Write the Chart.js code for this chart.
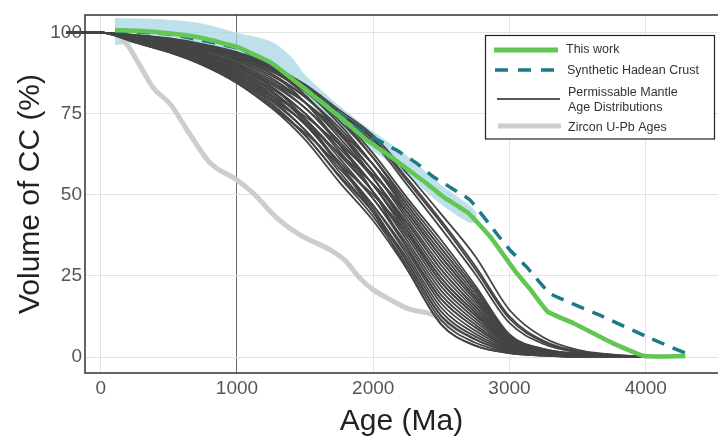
<!DOCTYPE html>
<html><head><meta charset="utf-8">
<script src="https://cdn.jsdelivr.net/npm/chart.js@4.4.1/dist/chart.umd.min.js"></script>
<style>html,body{margin:0;padding:0;background:#fff;}#wrap{width:718px;height:440px;}</style>
</head><body><div id="wrap"><canvas id="c" width="718" height="440"></canvas></div>
<script>
// ---- data ----
const xTicks = [0, 1000, 2000, 3000, 4000];
const yTicks = [0, 25, 50, 75, 100];

const thisWorkAges = [105, 300, 500, 750, 1000, 1250, 1500, 1750, 1950, 2120, 2390, 2510, 2700, 2860, 3050, 3150, 3280, 3470, 3760, 3990, 4290];
const thisWorkVol  = [100.8, 100.5, 99.8, 98.3, 95.6, 90.8, 82.6, 74.2, 67, 62, 53.6, 49.5, 44.3, 37, 26, 21, 14, 10.4, 4.2, 0.3, 0.3];

const hadeanAges = [105, 500, 1000, 1250, 1500, 1750, 1900, 2170, 2320, 2440, 2710, 2905, 3003, 3125, 3296, 3663, 4004, 4290];
const hadeanVol  = [100.5, 99.6, 95.3, 90.5, 83, 75, 70, 63.8, 59.7, 55.6, 48.4, 38.1, 33, 27.8, 19.6, 12.9, 6.3, 1.2];

const bandAges  = [105, 500, 750, 1000, 1250, 1400, 1500, 1750, 2000, 2250, 2500, 2700, 2760];
const bandUpper = [104.5, 104, 102.8, 100, 97.3, 92.5, 87, 77.5, 69.5, 62, 53, 47, 44.5];
const bandLower = [96.2, 97.5, 96.5, 93.5, 88.5, 84, 79.5, 71.5, 63.5, 56, 47, 41.5, 41.5];

const zirconAges = [110, 200, 300, 385, 510, 650, 800, 1000, 1120, 1290, 1465, 1685, 1800, 1900, 2000, 2130, 2250, 2440, 2600, 2800, 3000, 3300, 3600];
const zirconVol  = [100, 96, 89, 83, 78, 69, 60, 54.6, 50.5, 43, 37.6, 33, 29.5, 24.4, 20.7, 17.6, 15, 13, 9, 5, 3, 1.5, 0.3];

const mantleAges = [-250, 0, 250, 500, 750, 1000, 1250, 1500, 1750, 2000, 2250, 2500, 2750, 3000, 3250, 3500, 4000];
const mantleRuns = [
  [100,100,97,94,90,84.5,77,67,54,42,27,10,3.5,1.2,0.4,0,0],
  [100,100,97.2,94.4,90.7,85.5,78.3,68.5,55.6,43.3,28.1,11.3,4.4,1.5,0.5,0.1,0],
  [100,100,97.1,94.2,90.3,85,77.7,68.3,56.1,44.6,30.3,13.9,6.3,2.1,0.7,0.2,0],
  [100,100,97.5,94.9,91.3,86.4,79.6,70,57.2,44.6,29.2,12.6,5.4,1.8,0.6,0.1,0],
  [100,100,97.3,94.6,91,85.9,79,70,58.2,46.7,32.5,16.5,8.1,2.7,0.9,0.3,0],
  [100,100,97.7,95.3,92,87.4,80.9,71.7,59.3,46.7,31.4,15.2,7.2,2.4,0.8,0.2,0],
  [100,100,97.6,95.1,91.6,86.9,80.3,71.7,60.3,48.8,34.7,19.1,10,3.2,1.1,0.4,0],
  [100,100,97.9,95.7,92.6,88.3,82.2,73.4,61.4,48.8,33.6,17.8,9.1,2.9,1,0.3,0],
  [100,100,97.8,95.5,92.3,87.8,81.6,73.4,62.4,50.9,36.9,21.7,11.8,3.8,1.4,0.5,0],
  [100,100,98.2,96.2,93.3,89.3,83.5,75.1,63.5,50.9,35.8,20.4,10.9,3.5,1.2,0.4,0],
  [100,100,98,95.9,92.9,88.8,82.9,75.1,64.5,53,39.1,24.3,13.7,4.4,1.6,0.6,0],
  [100,100,98.4,96.6,93.9,90.2,84.8,76.8,65.6,53,38,23,12.8,4.1,1.5,0.5,0],
  [100,100,98.3,96.4,93.6,89.7,84.2,76.8,66.6,55.1,41.3,26.9,15.5,5,1.8,0.7,0],
  [100,100,98.6,97,94.6,91.2,86.1,78.5,67.7,55.1,40.2,25.6,14.6,4.7,1.7,0.6,0],
  [100,100,98.5,96.8,94.2,90.7,85.5,78.5,68.7,57.2,43.5,29.5,17.4,5.6,2,0.8,0],
  [100,100,98.8,97.4,95.2,92.1,87.4,80.2,69.8,57.2,42.4,28.2,16.5,5.3,1.9,0.7,0],
  [100,100,98.7,97.2,94.9,91.6,86.8,80.2,70.8,59.3,45.7,32.1,19.2,6.1,2.2,0.9,0],
  [100,100,99.1,97.9,95.9,93.1,88.7,81.9,71.9,59.3,44.6,30.8,18.3,5.8,2.1,0.8,0],
  [100,100,99,97.7,95.5,92.6,88.1,81.9,72.9,61.4,47.9,34.7,21.1,6.7,2.4,1,0],
  [100,100,99.3,98.3,96.5,94,90,83.6,74,61.4,46.8,33.4,20.2,6.4,2.3,0.9,0],
  [100,100,99.2,98.1,96.2,93.5,89.4,83.4,74.5,62.7,49,36,22,7,2.5,1,0],
  [100,100,97,94,90,84.5,77,69.1,59.3,49.9,38,23,12.8,4.1,1.5,0.5,0],
  [100,100,98.2,96.2,93.3,89.3,83.5,73.4,59.3,44.6,27,10,3.5,1.2,0.4,0,0],
  [100,100,97.7,95.3,92,87.4,80.9,74.2,65.6,56.2,44.6,30.8,18.3,5.8,2.1,0.8,0],
  [100,100,98.8,97.4,95.2,92.1,87.4,78.5,65.6,50.9,33.6,17.8,9.1,2.9,1,0.3,0],
  [100,100,98.4,96.6,93.9,90.2,84.8,78.5,69.8,59.3,46.8,33.4,20.2,6.4,2.3,0.9,0],
  [100,100,97.5,94.9,91.3,86.4,79.6,72.3,62.9,53.3,41.3,26.9,15.5,5,1.8,0.7,0],
  [100,100,99.1,97.9,95.9,93.1,88.7,80.8,69.2,55.4,39.1,24.3,13.7,4.4,1.6,0.6,0],
  [100,100,97.9,95.7,92.6,88.3,82.2,72.5,59.3,45.7,29.2,12.6,5.4,1.8,0.6,0.1,0],
  [100,100,99.1,98,96,93.5,89.5,83.5,75.5,67.5,55,42,28,12.5,5,1.8,0],
  [100,100,99,97.8,95.8,93.2,89.2,83,75,67,54.2,41.2,27,11.8,4.6,1.6,0],
  [100,100,99.2,98.1,96.2,93.8,89.8,84,76.2,68.3,56.5,44,31,14.5,6,2.2,0],
  [100,100,98.9,97.6,95.5,92.8,88.7,82.5,74.2,66.2,53,39.5,25.5,10.5,4,1.4,0]
];

const legendLabels = ['This work', 'Synthetic Hadean Crust', ['Permissable Mantle', 'Age Distributions'], 'Zircon U-Pb Ages'];
const axisTitles = { x: 'Age (Ma)', y: 'Volume of CC (%)' };

// ---- build chart ----
const FONT = "'Liberation Sans', Arial, Helvetica, sans-serif";
const pts = (xs, ys) => xs.map((x, i) => ({ x: x, y: ys[i] }));

const C_GREEN = '#62c653', C_TEAL = '#1e7a86', C_DARK = '#444444', C_ZIR = '#cdcdcd';

const datasets = [];
datasets.push({ label: legendLabels[0], data: pts(thisWorkAges, thisWorkVol), borderColor: C_GREEN, borderWidth: 4.5, pointRadius: 0, tension: 0.12, order: 0, fill: false });
datasets.push({ label: legendLabels[1], data: pts(hadeanAges, hadeanVol), borderColor: C_TEAL, borderWidth: 3.5, borderDash: [13, 9], pointRadius: 0, tension: 0.1, order: 1, fill: false });
mantleRuns.forEach((run, i) => {
  datasets.push({ label: 'mantle ' + (i + 1), data: pts(mantleAges, run), borderColor: C_DARK, borderWidth: 1.8, pointRadius: 0, cubicInterpolationMode: 'monotone', clip: false, order: 2, fill: false });
});
datasets.push({ label: legendLabels[3], data: pts(zirconAges, zirconVol), borderColor: C_ZIR, borderWidth: 5, pointRadius: 0, cubicInterpolationMode: 'monotone', order: 3, fill: false });
datasets.push({ label: 'band upper', data: pts(bandAges, bandUpper), borderColor: 'rgba(0,0,0,0)', borderWidth: 0, pointRadius: 0, tension: 0.3, fill: '+1', backgroundColor: 'rgba(168,214,228,0.75)', order: 4 });
datasets.push({ label: 'band lower', data: pts(bandAges, bandLower), borderColor: 'rgba(0,0,0,0)', borderWidth: 0, pointRadius: 0, tension: 0.3, fill: false, order: 5 });

const frame = {
  id: 'frame',
  afterDraw(chart) {
    const { ctx, chartArea: a } = chart;
    ctx.save();
    ctx.strokeStyle = '#333';
    ctx.lineWidth = 1.5;
    ctx.beginPath();
    ctx.moveTo(a.right + 2, a.top); ctx.lineTo(a.left, a.top); ctx.lineTo(a.left, a.bottom); ctx.lineTo(a.right + 2, a.bottom);
    ctx.stroke();
    // legend box
    const bx = 485.5, by = 35.5, bw = 229, bh = 103.5;
    ctx.fillStyle = '#fff';
    ctx.fillRect(bx, by, bw, bh);
    ctx.strokeStyle = '#222'; ctx.lineWidth = 1.2;
    ctx.strokeRect(bx, by, bw, bh);
    ctx.lineCap = 'butt';
    ctx.strokeStyle = C_GREEN; ctx.lineWidth = 5;
    ctx.beginPath(); ctx.moveTo(494, 50); ctx.lineTo(558, 50); ctx.stroke();
    ctx.strokeStyle = C_TEAL; ctx.lineWidth = 3.5; ctx.setLineDash([13, 10]);
    ctx.beginPath(); ctx.moveTo(495, 70); ctx.lineTo(562, 70); ctx.stroke();
    ctx.setLineDash([]);
    ctx.strokeStyle = '#222'; ctx.lineWidth = 1.4;
    ctx.beginPath(); ctx.moveTo(497, 99); ctx.lineTo(560, 99); ctx.stroke();
    ctx.strokeStyle = C_ZIR; ctx.lineWidth = 5;
    ctx.beginPath(); ctx.moveTo(498, 126); ctx.lineTo(561, 126); ctx.stroke();
    ctx.fillStyle = '#333';
    ctx.font = '12.5px ' + FONT;
    ctx.textBaseline = 'middle'; ctx.textAlign = 'left';
    ctx.fillText(legendLabels[0], 566, 50);
    ctx.fillText(legendLabels[1], 567, 71);
    ctx.fillText(legendLabels[2][0], 568, 92.5);
    ctx.fillText(legendLabels[2][1], 568, 108);
    ctx.fillText(legendLabels[3], 568, 127.5);
    ctx.restore();
  }
};

new Chart(document.getElementById('c'), {
  type: 'line',
  data: { datasets: datasets },
  options: {
    responsive: false,
    animation: false,
    events: [],
    layout: { padding: { top: 15, right: 0, bottom: 0, left: 0 } },
    plugins: { legend: { display: false }, tooltip: { enabled: false }, filler: { propagate: false } },
    scales: {
      x: {
        type: 'linear', min: -115, max: 4530,
        afterBuildTicks: s => { s.ticks = xTicks.map(v => ({ value: v })); },
        afterFit: s => { s.height = 67; },
        border: { display: false },
        grid: { drawTicks: false, lineWidth: 1, color: c => (c.tick && c.tick.value === 1000 ? '#6a6a6a' : '#e2e2e2') },
        ticks: { color: '#555', font: { family: FONT, size: 19 }, padding: 4, maxRotation: 0, autoSkip: false, callback: v => String(v) },
        title: { display: true, text: axisTitles.x, color: '#222', font: { family: FONT, size: 30 }, padding: { top: 0, bottom: 0 } }
      },
      y: {
        type: 'linear', min: -4.93, max: 105.46,
        afterBuildTicks: s => { s.ticks = yTicks.map(v => ({ value: v })); },
        afterFit: s => { s.width = 85; },
        border: { display: false },
        grid: { drawTicks: false, lineWidth: 1, color: '#e2e2e2' },
        ticks: { color: '#555', font: { family: FONT, size: 19 }, padding: 3, callback: v => String(v) },
        title: { display: true, text: axisTitles.y, color: '#222', font: { family: FONT, size: 30 }, padding: { top: 13, bottom: 0 } }
      }
    }
  },
  plugins: [frame]
});
</script>
</body></html>
